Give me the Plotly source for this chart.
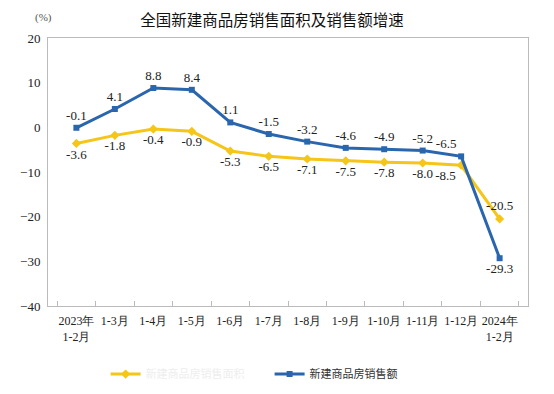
import plotly.graph_objects as go

categories = ["2023年<br>1-2月", "1-3月", "1-4月", "1-5月", "1-6月", "1-7月", "1-8月",
              "1-9月", "1-10月", "1-11月", "1-12月", "2024年<br>1-2月"]
area_growth = [-3.6, -1.8, -0.4, -0.9, -5.3, -6.5, -7.1, -7.5, -7.8, -8.0, -8.5, -20.5]
sales_growth = [-0.1, 4.1, 8.8, 8.4, 1.1, -1.5, -3.2, -4.6, -4.9, -5.2, -6.5, -29.3]
y_ticks = [20, 10, 0, -10, -20, -30, -40]

area_name = "新建商品房销售面积"
sales_name = "新建商品房销售额"
title = "全国新建商品房销售面积及销售额增速"

YELLOW = "#F5C518"
BLUE = "#2A66AE"
SERIF = "Liberation Serif, Times New Roman, serif"
CJK = "Noto Sans CJK SC, sans-serif"

area_pos = ["bottom center"] * 10 + ["bottom left", "top center"]
sales_pos = ["top center"] * 10 + ["top left", "bottom center"]

fig = go.Figure()
fig.add_trace(go.Scatter(
    x=categories, y=area_growth, mode="lines+markers+text",
    name="<span style='color:#eeeeee'>" + area_name + "</span>",
    line=dict(color=YELLOW, width=3),
    marker=dict(symbol="diamond", size=7, color=YELLOW),
    text=[f"{v:.1f}" for v in area_growth], textposition=area_pos,
    textfont=dict(family=SERIF, size=13, color="#222"),
    cliponaxis=False,
))
fig.add_trace(go.Scatter(
    x=categories, y=sales_growth, mode="lines+markers+text",
    name=sales_name,
    line=dict(color=BLUE, width=3),
    marker=dict(symbol="square", size=6, color=BLUE),
    text=[f"{v:.1f}" for v in sales_growth], textposition=sales_pos,
    textfont=dict(family=SERIF, size=13, color="#222"),
    cliponaxis=False,
))

# page has an 8px body margin, so the figure is offset by 8px
fig.update_layout(
    width=538, height=378,
    margin=dict(l=40, r=18, t=30, b=80, autoexpand=False),
    paper_bgcolor="white", plot_bgcolor="white",
    title=dict(text=title, x=0.4907, xanchor="center", y=0.968, yanchor="middle",
               font=dict(family=CJK, size=15.5, color="#111")),
    showlegend=True,
    legend=dict(orientation="h", x=0.12, xanchor="left", y=-0.2, yanchor="top",
                font=dict(family=CJK, size=11, color="#333"),
                itemwidth=30, entrywidth=119),
    annotations=[dict(text="(%)", xref="paper", yref="paper", x=-0.01, y=1.045,
                      xanchor="center", yanchor="bottom", showarrow=False,
                      font=dict(family=SERIF, size=11, color="#555"))],
)
fig.update_xaxes(
    type="category", showline=True, linecolor="#bbbbbb", linewidth=1, mirror=True,
    ticks="inside", tickson="boundaries", ticklen=5, tickcolor="#bbbbbb",
    showgrid=False, tickfont=dict(family=SERIF, size=12, color="#222"),
    tickangle=0, automargin=False, ticklabelstandoff=4,
)
fig.update_yaxes(
    range=[-40, 20], tickvals=y_ticks, showline=True, linecolor="#bbbbbb", linewidth=1,
    mirror=True, ticks="", showgrid=False, zeroline=False, automargin=False,
    ticklabelstandoff=4,
    tickfont=dict(family=SERIF, size=13, color="#222"),
)
fig.write_html("out.html")
